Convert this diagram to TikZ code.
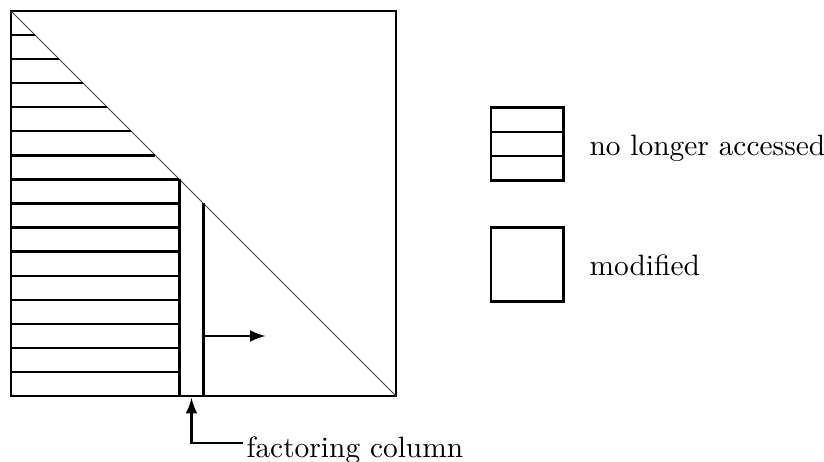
\documentclass[tikz,border=0pt]{standalone}
\usetikzlibrary{positioning}
\begin{document}
\begin{tikzpicture}[x=0.34pt, y=-0.34pt, auto,
	frame/.style={draw, line width=1pt},
	band/.style={line width=0.8pt},
	legbox/.style={draw, line width=1pt, minimum width=24.5pt, minimum height=25pt, inner sep=0pt}]
	\useasboundingbox (0,0) rectangle (824,462);
	
	% Define matrix
	\draw[frame] (11,11) rectangle (396,396);
	\draw[line width=0.35pt, black!75] (11,11) -- (396,396);
	\foreach \k in {1,...,7} \draw[band] (11,{11+24.0625*\k}) -- ({11+24.0625*\k},{11+24.0625*\k});
	\foreach \k in {8,...,15} \draw[band] (11,{11+24.0625*\k}) -- (179.4,{11+24.0625*\k});
	\draw[band] (179.4,179.4) -- (179.4,396); \draw[band] (203.5,203.5) -- (203.5,396);
	
	% Define nodes
	\coordinate (colbot) at (191.5,398); \coordinate (sweep) at (203.5,336);
	\node[right, inner sep=1pt] (fcol) at (243,450) {factoring column};
	\node[legbox] (old) at (527,144) {}; \node[right=5pt of old, yshift=-1.5pt] (oldtxt) {no longer accessed};
	\node[legbox] (mod) at (527,264.5) {}; \node[right=5pt of mod, yshift=-0.4pt] (modtxt) {modified};
	\draw[band] (491,132) -- (563,132); \draw[band] (491,156) -- (563,156);
	
	% Draw edges
	\draw[-latex, band] (sweep) -- ++(62,0); \draw[-latex, band] ([yshift=2.4pt]fcol.west) -| (colbot);
\end{tikzpicture}
\end{document}
